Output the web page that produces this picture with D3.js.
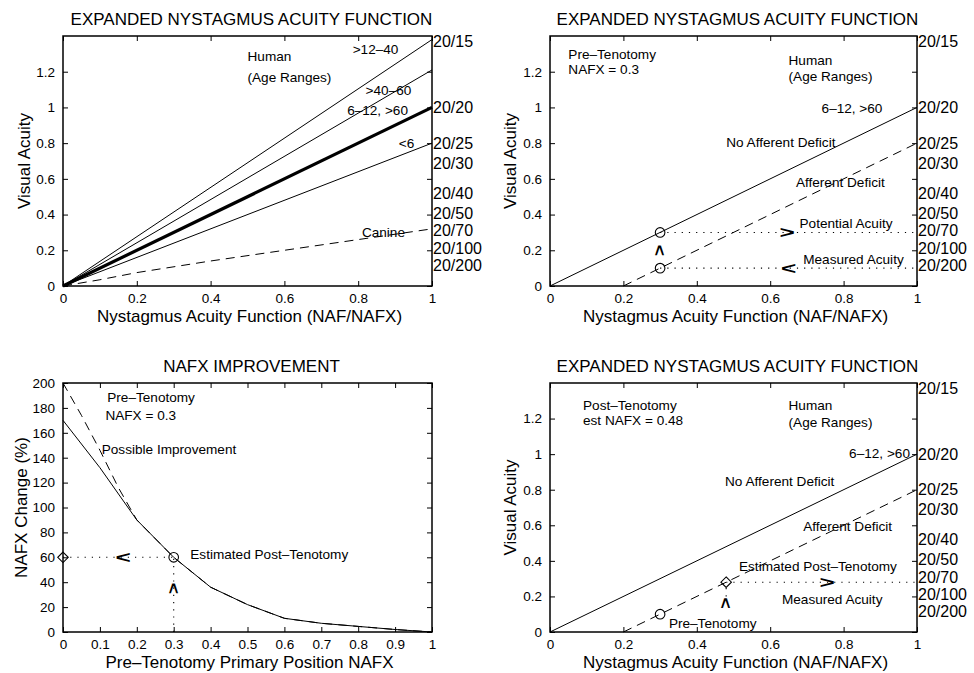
<!DOCTYPE html>
<html>
<head>
<meta charset="utf-8">
<script src="https://cdn.jsdelivr.net/npm/d3@7/dist/d3.min.js"></script>
<style>
  body { margin: 0; background: #fff; }
  svg text { font-family: "Liberation Sans", Arial, Helvetica, sans-serif; fill: #000; }
</style>
</head>
<body>
<div id="chart"></div>
<script>
// ---- data ----
const nafTicks = [0, 0.2, 0.4, 0.6, 0.8, 1];
const acuityTicks = [0, 0.2, 0.4, 0.6, 0.8, 1, 1.2];
const nafxTicks = [0, 0.1, 0.2, 0.3, 0.4, 0.5, 0.6, 0.7, 0.8, 0.9, 1];
const changeTicks = [0, 20, 40, 60, 80, 100, 120, 140, 160, 180, 200];

// Snellen labels on the right of the acuity panels (acuity value of label centre)
const snellenLabels = ["20/15", "20/20", "20/25", "20/30", "20/40", "20/50", "20/70", "20/100", "20/200"];
const snellenAcuity = [1.37, 1.0, 0.8, 0.69, 0.52, 0.41, 0.31, 0.21, 0.115];

// panel 1: human age ranges, straight lines from the origin
const ageGroups = [">12–40", ">40–60", "6–12, >60", "<6"];
const ageNaf = [0, 1];
const ageAcuity = [[0, 1.38], [0, 1.21], [0, 1.0], [0, 0.8]];
const canineNaf = [0, 0.1, 0.2, 0.4, 0.6, 0.8, 1];
const canineAcuity = [0, 0.035, 0.075, 0.14, 0.2, 0.26, 0.32];

// panels 2 and 4: no afferent deficit vs afferent deficit
const noDeficitNaf = [0, 1];
const noDeficitAcuity = [0, 1];
const deficitNaf = [0.2, 1];
const deficitAcuity = [0, 0.8];
const preNafx = 0.3;
const potentialAcuity = 0.3;
const measuredAcuity = 0.1;
const postNafx = 0.48;
const postAcuity = 0.28;

// panel 3: NAFX improvement
const improveNafx = [0, 0.1, 0.2, 0.3, 0.4, 0.5, 0.6, 0.7, 0.8, 0.9, 1];
const improveChange = [170, 132, 90, 60, 36, 22, 11, 7, 4.5, 2, 0];
const possibleNafx = [0, 0.05, 0.1, 0.15, 0.2, 0.3, 0.4, 0.5, 0.6, 0.7, 0.8, 0.9, 1];
const possibleChange = [200, 174, 146, 116, 90, 60, 36, 22, 11, 7, 4.5, 2, 0];
const estChange = 60;

// ---- layout ----
const W = 974, H = 673;
const svg = d3.select("#chart").append("svg")
    .attr("width", W)
    .attr("height", H);

const lineStroke = 1;
const thickStroke = 3.2;
const dashed = "9,6";
const dotted = "1.2,6";
const noteSize = 13.6;

function makePanel(box, xDomain, yDomain, xTicks, yTicks) {
    const x = d3.scaleLinear().domain(xDomain).range([box.left, box.right]);
    const y = d3.scaleLinear().domain(yDomain).range([box.bottom, box.top]);
    const g = svg.append("g");

    // box with inward ticks on all sides (matlab style)
    g.append("g").attr("transform", `translate(0,${box.bottom})`)
        .call(d3.axisBottom(x).tickValues(xTicks).tickSizeInner(-5).tickSizeOuter(0).tickPadding(7).tickFormat(d3.format("")));
    g.append("g").attr("transform", `translate(0,${box.top})`)
        .call(d3.axisTop(x).tickValues(xTicks).tickSizeInner(-5).tickSizeOuter(0).tickFormat(""));
    g.append("g").attr("transform", `translate(${box.left},0)`)
        .call(d3.axisLeft(y).tickValues(yTicks).tickSizeInner(-5).tickSizeOuter(0).tickPadding(8).tickFormat(d3.format("")));
    g.append("g").attr("transform", `translate(${box.right},0)`)
        .call(d3.axisRight(y).tickValues(yTicks).tickSizeInner(-5).tickSizeOuter(0).tickFormat(""));
    g.selectAll(".domain").remove();
    g.selectAll(".tick line").attr("stroke", "#000").attr("stroke-width", 1);
    g.selectAll(".tick text").attr("font-size", 13.5).attr("fill", "#000");

    g.append("rect")
        .attr("x", box.left).attr("y", box.top)
        .attr("width", box.right - box.left).attr("height", box.bottom - box.top)
        .attr("fill", "none").attr("stroke", "#000").attr("stroke-width", 1.5);

    return { g: g, x: x, y: y, box: box };
}

function title(p, txt) {
    p.g.append("text")
        .attr("x", (p.box.left + p.box.right) / 2 + 4)
        .attr("y", p.box.top - 11)
        .attr("text-anchor", "middle")
        .attr("font-size", 17)
        .text(txt);
}

function xLabel(p, txt) {
    p.g.append("text")
        .attr("x", (p.box.left + p.box.right) / 2 + 2)
        .attr("y", p.box.bottom + 36)
        .attr("text-anchor", "middle")
        .attr("font-size", 17)
        .text(txt);
}

function yLabel(p, txt, bx) {
    p.g.append("text")
        .attr("transform", `translate(${bx},${(p.box.top + p.box.bottom) / 2}) rotate(-90)`)
        .attr("text-anchor", "middle")
        .attr("font-size", 17)
        .text(txt);
}

function series(p, xs, ys, width, dash) {
    const pts = xs.map((d, i) => [d, ys[i]]);
    const line = d3.line().x(d => p.x(d[0])).y(d => p.y(d[1]));
    p.g.append("path")
        .attr("d", line(pts))
        .attr("fill", "none")
        .attr("stroke", "#000")
        .attr("stroke-width", width)
        .attr("stroke-dasharray", dash || null);
}

function note(p, txt, xv, yv) {
    p.g.append("text")
        .attr("x", p.x(xv))
        .attr("y", p.y(yv))
        .attr("font-size", noteSize)
        .text(txt);
}

function snellen(p) {
    p.g.selectAll(".snellen")
        .data(snellenLabels).enter()
        .append("text")
        .attr("class", "snellen")
        .attr("x", p.box.right + 1)
        .attr("y", (d, i) => p.y(snellenAcuity[i]))
        .attr("dy", "0.36em")
        .attr("font-size", 16)
        .text(d => d);
}

function circleMark(p, xv, yv) {
    p.g.append("circle")
        .attr("cx", p.x(xv)).attr("cy", p.y(yv)).attr("r", 4.8)
        .attr("fill", "none").attr("stroke", "#000").attr("stroke-width", 1.1);
}

function diamondMark(p, xv, yv) {
    p.g.append("path")
        .attr("transform", `translate(${p.x(xv)},${p.y(yv)})`)
        .attr("d", d3.symbol().type(d3.symbolDiamond2).size(70)())
        .attr("fill", "none").attr("stroke", "#000").attr("stroke-width", 1.1);
}

// chevrons "<" ">" and an upward caret, drawn as text
function chevron(p, ch, xv, yv) {
    p.g.append("text")
        .attr("transform", `translate(${p.x(xv)},${p.y(yv)}) scale(1.75,1.05)`)
        .attr("text-anchor", "middle")
        .attr("dy", "0.36em")
        .attr("font-size", 15)
        .attr("font-weight", "bold")
        .text(ch);
}

function caret(p, xv, yv) {
    p.g.append("text")
        .attr("transform", `translate(${p.x(xv)},${p.y(yv)}) rotate(90) scale(1.2,1)`)
        .attr("text-anchor", "middle")
        .attr("dy", "0.36em")
        .attr("font-size", 16)
        .attr("font-weight", "bold")
        .text("<");
}

// ---------- panel 1 ----------
const p1 = makePanel({ left: 63, right: 432, top: 36, bottom: 286 }, [0, 1], [0, 1.4], nafTicks, acuityTicks);
title(p1, "EXPANDED NYSTAGMUS ACUITY FUNCTION");
xLabel(p1, "Nystagmus Acuity Function (NAF/NAFX)");
yLabel(p1, "Visual Acuity", 30);
ageGroups.forEach(function (grp, i) {
    series(p1, ageNaf, ageAcuity[i], grp == "6–12, >60" ? thickStroke : lineStroke);
});
series(p1, canineNaf, canineAcuity, lineStroke, dashed);
note(p1, "Human", 0.5, 1.26);
note(p1, "(Age Ranges)", 0.5, 1.14);
note(p1, ">12–40", 0.785, 1.30);
note(p1, ">40–60", 0.82, 1.07);
note(p1, "6–12, >60", 0.77, 0.96);
note(p1, "<6", 0.91, 0.775);
note(p1, "Canine", 0.81, 0.275);
snellen(p1);

// ---------- panel 2 ----------
const p2 = makePanel({ left: 550, right: 917, top: 36, bottom: 286 }, [0, 1], [0, 1.4], nafTicks, acuityTicks);
title(p2, "EXPANDED NYSTAGMUS ACUITY FUNCTION");
xLabel(p2, "Nystagmus Acuity Function (NAF/NAFX)");
yLabel(p2, "Visual Acuity", 516);
series(p2, noDeficitNaf, noDeficitAcuity, lineStroke);
series(p2, deficitNaf, deficitAcuity, lineStroke, dashed);
series(p2, [preNafx, 1], [potentialAcuity, potentialAcuity], 1.1, dotted);
series(p2, [preNafx, 1], [measuredAcuity, measuredAcuity], 1.1, dotted);
circleMark(p2, preNafx, potentialAcuity);
circleMark(p2, preNafx, measuredAcuity);
chevron(p2, ">", 0.646, potentialAcuity);
chevron(p2, "<", 0.65, measuredAcuity);
caret(p2, preNafx, 0.2);
note(p2, "Pre–Tenotomy", 0.05, 1.27);
note(p2, "NAFX = 0.3", 0.05, 1.185);
note(p2, "Human", 0.65, 1.24);
note(p2, "(Age Ranges)", 0.65, 1.146);
note(p2, "6–12, >60", 0.74, 0.97);
note(p2, "No Afferent Deficit", 0.48, 0.78);
note(p2, "Afferent Deficit", 0.67, 0.556);
note(p2, "Potential Acuity", 0.68, 0.325);
note(p2, "Measured Acuity", 0.69, 0.124);
snellen(p2);

// ---------- panel 3 ----------
const p3 = makePanel({ left: 63, right: 432, top: 383, bottom: 632 }, [0, 1], [0, 200], nafxTicks, changeTicks);
title(p3, "NAFX IMPROVEMENT");
xLabel(p3, "Pre–Tenotomy Primary Position NAFX");
yLabel(p3, "NAFX Change (%)", 27);
series(p3, improveNafx, improveChange, lineStroke);
series(p3, possibleNafx, possibleChange, lineStroke, dashed);
series(p3, [0, preNafx], [estChange, estChange], 1.1, dotted);
series(p3, [preNafx, preNafx], [0, estChange], 1.1, dotted);
diamondMark(p3, 0, estChange);
circleMark(p3, preNafx, estChange);
chevron(p3, "<", 0.163, estChange);
caret(p3, preNafx, 35);
note(p3, "Pre–Tenotomy", 0.12, 185);
note(p3, "NAFX = 0.3", 0.115, 170);
note(p3, "Possible Improvement", 0.105, 143);
note(p3, "Estimated Post–Tenotomy", 0.345, 58.6);

// ---------- panel 4 ----------
const p4 = makePanel({ left: 550, right: 917, top: 383, bottom: 632 }, [0, 1], [0, 1.4], nafTicks, acuityTicks);
title(p4, "EXPANDED NYSTAGMUS ACUITY FUNCTION");
xLabel(p4, "Nystagmus Acuity Function (NAF/NAFX)");
yLabel(p4, "Visual Acuity", 516);
series(p4, noDeficitNaf, noDeficitAcuity, lineStroke);
series(p4, deficitNaf, deficitAcuity, lineStroke, dashed);
series(p4, [postNafx, 1], [postAcuity, postAcuity], 1.1, dotted);
series(p4, [postNafx, postNafx], [0.2, postAcuity], 1.1, dotted);
circleMark(p4, preNafx, measuredAcuity);
diamondMark(p4, postNafx, postAcuity);
chevron(p4, ">", 0.755, postAcuity);
caret(p4, postNafx, 0.163);
note(p4, "Post–Tenotomy", 0.09, 1.247);
note(p4, "est NAFX = 0.48", 0.09, 1.163);
note(p4, "Human", 0.65, 1.247);
note(p4, "(Age Ranges)", 0.65, 1.15);
note(p4, "6–12, >60", 0.815, 0.978);
note(p4, "No Afferent Deficit", 0.477, 0.82);
note(p4, "Afferent Deficit", 0.69, 0.567);
note(p4, "Estimated Post–Tenotomy", 0.515, 0.345);
note(p4, "Measured Acuity", 0.632, 0.155);
note(p4, "Pre–Tenotomy", 0.324, 0.022);
snellen(p4);
</script>
</body>
</html>
